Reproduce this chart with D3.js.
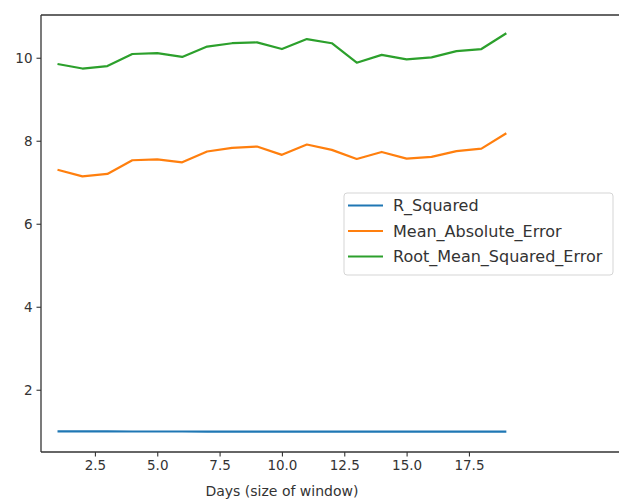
<!DOCTYPE html>
<html>
<head>
<meta charset="utf-8">
<script src="https://cdn.jsdelivr.net/npm/d3@7"></script>
<style>
  html, body { margin: 0; padding: 0; background: #fff; overflow: hidden; }
  svg { display: block; font-family: "DejaVu Sans", sans-serif; overflow: hidden; }
</style>
</head>
<body>
<div id="chart"></div>
<script>
// ---- data ----
const days = [1, 2, 3, 4, 5, 6, 7, 8, 9, 10, 11, 12, 13, 14, 15, 16, 17, 18, 19];
const rSquared = [0.995, 0.995, 0.995, 0.994, 0.994, 0.994, 0.993, 0.993, 0.993, 0.993, 0.992, 0.992, 0.992, 0.992, 0.991, 0.991, 0.991, 0.990, 0.990];
const meanAbsoluteError = [7.30, 7.14, 7.20, 7.53, 7.55, 7.48, 7.74, 7.83, 7.86, 7.66, 7.91, 7.78, 7.56, 7.73, 7.57, 7.61, 7.75, 7.81, 8.18];
const rootMeanSquaredError = [9.85, 9.74, 9.80, 10.09, 10.11, 10.02, 10.27, 10.35, 10.37, 10.21, 10.45, 10.35, 9.88, 10.07, 9.96, 10.01, 10.16, 10.21, 10.59];
const seriesNames = ["R_Squared", "Mean_Absolute_Error", "Root_Mean_Squared_Error"];
const seriesColors = ["#1f77b4", "#ff7f0e", "#2ca02c"];
const xTicks = [2.5, 5.0, 7.5, 10.0, 12.5, 15.0, 17.5];
const yTicks = [2, 4, 6, 8, 10];
const xLabel = "Days (size of window)";

(function () {
const W = 619, H = 500;
const mLeft = 41, mTop = 15, mBottom = 452, mRight = 640; // plot area runs past the right edge
const x = d3.scaleLinear().domain([0.338, 24.36]).range([mLeft, mRight]);
const y = d3.scaleLinear().domain([0.5, 11.03]).range([mBottom, mTop]);

const svg = d3.select("#chart").append("svg").attr("width", W).attr("height", H);

const series = [rSquared, meanAbsoluteError, rootMeanSquaredError];
const line = d3.line().x((d, i) => x(days[i])).y(d => y(d));

const plot = svg.append("g");
series.forEach((s, k) => {
  plot.append("path").datum(s)
    .attr("fill", "none")
    .attr("stroke", seriesColors[k])
    .attr("stroke-width", 2.2)
    .attr("stroke-linejoin", "round")
    .attr("stroke-linecap", "butt")
    .attr("d", line);
});

// axes
const xAxis = d3.axisBottom(x).tickValues(xTicks).tickFormat(d3.format(".1f")).tickSize(4.5).tickPadding(4);
const yAxis = d3.axisLeft(y).tickValues(yTicks).tickFormat(d3.format("d")).tickSize(4.5).tickPadding(4);

const gx = svg.append("g").attr("transform", `translate(0,${mBottom})`).call(xAxis);
const gy = svg.append("g").attr("transform", `translate(${mLeft},0)`).call(yAxis);
[gx, gy].forEach(g => {
  g.select(".domain").remove();
  g.selectAll(".tick line").attr("stroke", "#333").attr("stroke-width", 1.1);
  g.selectAll(".tick text").attr("fill", "#333").style("font-size", "13.5px").style("font-family", "DejaVu Sans");
});

// spines: left, top, bottom (right spine lies outside the picture)
const spines = svg.append("g").attr("stroke", "#333").attr("stroke-width", 1.3);
spines.append("line").attr("x1", mLeft).attr("x2", mLeft).attr("y1", mTop).attr("y2", mBottom);
spines.append("line").attr("x1", mLeft).attr("x2", W + 5).attr("y1", mTop).attr("y2", mTop);
spines.append("line").attr("x1", mLeft).attr("x2", W + 5).attr("y1", mBottom).attr("y2", mBottom);

// x label
svg.append("text")
  .attr("x", x(10)).attr("y", 496)
  .attr("text-anchor", "middle")
  .attr("fill", "#333")
  .style("font-size", "14px")
  .text(xLabel);

// legend
const lg = svg.append("g").attr("transform", "translate(344,193)");
lg.append("rect").attr("width", 269).attr("height", 82).attr("rx", 3)
  .attr("fill", "#fff").attr("fill-opacity", 0.85).attr("stroke", "#d5d5d5").attr("stroke-width", 1);
seriesNames.forEach((n, k) => {
  const ry = 12.5 + k * 25.5;
  lg.append("line").attr("x1", 4).attr("x2", 39).attr("y1", ry).attr("y2", ry)
    .attr("stroke", seriesColors[k]).attr("stroke-width", 2.2);
  lg.append("text").attr("x", 49).attr("y", ry).attr("dy", "0.36em")
    .attr("fill", "#333").style("font-size", "16px").text(n);
});
})();
</script>
</body>
</html>
